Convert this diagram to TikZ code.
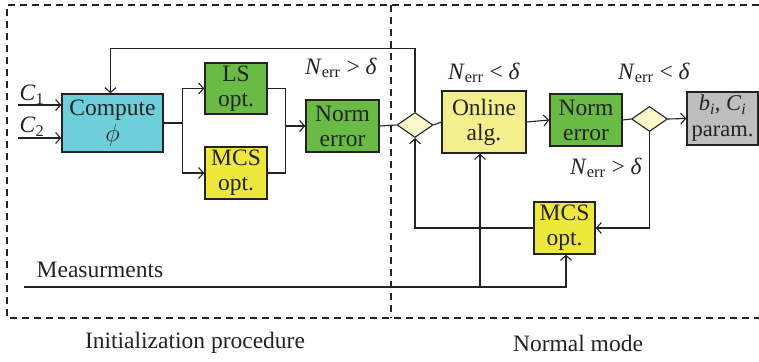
\documentclass[tikz,border=0pt]{standalone}
\usepackage{fontspec}
\setmainfont{Liberation Serif}
\newfontfamily\diagfont{Liberation Serif}
\usetikzlibrary{arrows.meta,shapes.geometric,calc}
\definecolor{cyanbox}{RGB}{110,206,218}
\definecolor{greenbox}{RGB}{106,187,69}
\definecolor{yellowbox}{RGB}{238,232,60}
\definecolor{lightyellow}{RGB}{243,239,140}
\definecolor{diamondfill}{RGB}{251,249,204}
\definecolor{graybox}{RGB}{190,190,190}
\definecolor{edge}{RGB}{35,35,35}
\newcommand{\Nerr}{\textit{N}\textsubscript{err}}
\tikzset{
  blk/.style={draw=edge, line width=1.4pt, inner sep=0pt, align=center, text=edge,
    font=\diagfont\fontsize{23.5}{25}\selectfont},
  dia/.style={diamond, draw=edge, line width=1.1pt, fill=diamondfill, inner sep=0pt,
    minimum width=36pt, minimum height=25pt},
  conn/.style={line width=1.1pt, draw=edge},
  arr/.style={conn, -{Straight Barb[length=5pt,width=11pt,line width=1.1pt]}},
  lbl/.style={font=\diagfont\fontsize{23.5}{25}\selectfont, inner sep=0pt, text=edge},
  frame/.style={line width=1.1pt, dash pattern=on 7pt off 5pt, draw=edge}
}
\begin{document}
\begin{tikzpicture}[x=1pt,y=-1pt]
\useasboundingbox (0,0) rectangle (759,361);
% frames
\draw[frame] (759,5) -- (7,5) -- (7,318) -- (759,318);
\draw[frame] (391,5) -- (391,318);
% blocks
\node[blk, fill=cyanbox, minimum width=101pt, minimum height=58pt] (cmp) at (112.5,123) {Compute\\[1pt]$\phi$};
\node[blk, fill=greenbox, minimum width=62pt, minimum height=51pt] (ls) at (236,88.5) {LS\\opt.};
\node[blk, fill=yellowbox, minimum width=62pt, minimum height=52pt] (mcs) at (236,173) {MCS\\opt.};
\node[blk, fill=greenbox, minimum width=73pt, minimum height=52pt] (norm1) at (342.5,126) {Norm\\error};
\node[dia] (d1) at (415,125) {};
\node[blk, fill=lightyellow, minimum width=84pt, minimum height=62pt] (online) at (484,122) {Online\\alg.};
\node[blk, fill=greenbox, minimum width=72pt, minimum height=52pt] (norm2) at (586,120) {Norm\\error};
\node[dia] (d2) at (649.5,119) {};
\node[blk, fill=graybox, minimum width=71pt, minimum height=53pt,
  font=\diagfont\fontsize{22.5}{25}\selectfont] (param) at (722.5,118.5) {\textit{b}\textsubscript{\textit{i}}, \textit{C}\textsubscript{\textit{i}}\\[1pt]param.};
\node[blk, fill=yellowbox, minimum width=61pt, minimum height=52pt] (mcs2) at (564.5,228) {MCS\\opt.};
% labels
\node[lbl] (l1) at (341,68) {\Nerr{} > \textit{δ}};
\node[lbl] (l2) at (484,73) {\Nerr{} < \textit{δ}};
\node[lbl] (l3) at (654,73) {\Nerr{} < \textit{δ}};
\node[lbl] (l4) at (606,168) {\Nerr{} > \textit{δ}};
\node[lbl] (lc1) at (32,95) {\textit{C}\textsubscript{1}};
\node[lbl] (lc2) at (32,127) {\textit{C}\textsubscript{2}};
\node[lbl] (lm) at (100,270) {Measurments};
\node[lbl] (li) at (195,343) {Initialization procedure};
\node[lbl] (ln) at (578,343) {Normal mode};
% inputs
\coordinate (c1) at (18,105);
\coordinate (c2) at (18,138);
\coordinate (m0) at (24,287);
\draw[arr] (c1) -- (c1 -| cmp.west);
\draw[arr] (c2) -- (c2 -| cmp.west);
% init part
\draw[arr] (cmp.east) -- ++(19,0) |- (ls.west);
\draw[arr] (cmp.east) -- ++(19,0) |- (mcs.west);
\draw[conn] (ls.east) -- ++(18,0) |- (norm1.west);
\draw[arr] (mcs.east) -- ++(18,0) |- (norm1.west);
\draw[conn] (norm1.east) -- (d1.west);
\draw[arr] (d1.north) -- ++(0,-63) -| ($(cmp.north)+(-2,0)$);
% normal mode
\draw[conn] (d1.east) -- (online.west);
\draw[arr] (online.east) -- (norm2.west);
\draw[conn] (norm2.east) -- (d2.west);
\draw[arr] (d2.east) -- (param.west);
\draw[arr] (d2.south) |- (mcs2.east);
\draw[arr] (mcs2.west) -| (d1.south);
\draw[arr] (m0) -| ($(mcs2.south)+(1.5,0)$);
\draw[arr] (m0 -| 480,0) -- (480,0 |- online.south);
\end{tikzpicture}
\end{document}
